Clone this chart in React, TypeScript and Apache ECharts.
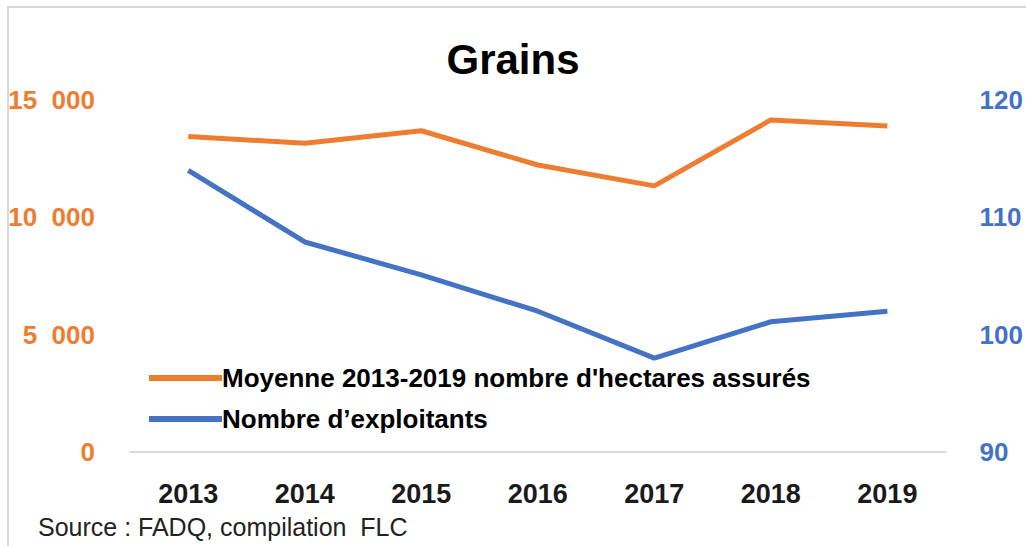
import React, { useEffect, useRef } from "react";
import * as echarts from "echarts";

const years = ["2013", "2014", "2015", "2016", "2017", "2018", "2019"];
const hectares = [13440, 13160, 13690, 12230, 11340, 14150, 13890];
const exploitants = [114.0, 107.9, 105.1, 102.0, 98.0, 101.1, 102.0];
const leftTicks = [0, 5000, 10000, 15000];
const rightTicks = [90, 100, 110, 120];

const seriesNames = [
  "Moyenne 2013-2019 nombre d'hectares assurés",
  "Nombre d\u2019exploitants",
];
const title = "Grains";
const source = "Source : FADQ, compilation  FLC";

const ORANGE = "#ED7D31";
const BLUE = "#4472C4";
const FONT = "'Liberation Sans Narrow', 'Arial Narrow', 'Liberation Sans', sans-serif";

function fmtThousands(v: number): string {
  if (v === 0) return "0";
  const s = String(v);
  return s.slice(0, s.length - 3) + "  " + s.slice(s.length - 3);
}

export default function App() {
  const ref = useRef<HTMLDivElement>(null);
  useEffect(() => {
    if (!ref.current) return;
    const chart = echarts.init(ref.current, null, { renderer: "svg" });
    chart.setOption({
      animation: false,
      backgroundColor: "#ffffff",
      title: {
        text: title,
        left: "center",
        top: 33,
        textStyle: { fontFamily: FONT, fontSize: 42, fontWeight: "bold", color: "#000" },
      },
      legend: {
        orient: "vertical",
        left: 144,
        top: 360,
        itemWidth: 73,
        itemHeight: 6,
        itemGap: 15,
        icon: "rect",
        textStyle: { fontFamily: FONT, fontSize: 26, fontWeight: "bold", color: "#000", padding: [0, 0, 0, -5] },
        data: seriesNames,
      },
      grid: { left: 130, right: 76, top: 100, bottom: 94, containLabel: false },
      xAxis: {
        type: "category",
        data: years,
        boundaryGap: true,
        axisLine: { lineStyle: { color: "#d9d9d9", width: 2 } },
        axisTick: { show: false },
        axisLabel: { fontFamily: FONT, fontSize: 27, fontWeight: "bold", color: "#1a1a1a", margin: 28 },
      },
      yAxis: [
        {
          type: "value",
          min: leftTicks[0],
          max: leftTicks[leftTicks.length - 1],
          interval: 5000,
          position: "left",
          splitLine: { show: false },
          axisLine: { show: false },
          axisTick: { show: false },
          axisLabel: {
            fontFamily: FONT,
            fontSize: 26,
            fontWeight: "bold",
            color: ORANGE,
            margin: 35,
            formatter: (v: number) => fmtThousands(v),
          },
        },
        {
          type: "value",
          min: rightTicks[0],
          max: rightTicks[rightTicks.length - 1],
          interval: 10,
          position: "right",
          splitLine: { show: false },
          axisLine: { show: false },
          axisTick: { show: false },
          axisLabel: { fontFamily: FONT, fontSize: 26, fontWeight: "bold", color: BLUE, margin: 34 },
        },
      ],
      series: [
        {
          name: seriesNames[0],
          type: "line",
          yAxisIndex: 0,
          data: hectares,
          symbol: "none",
          color: ORANGE,
          lineStyle: { color: ORANGE, width: 5 },
        },
        {
          name: seriesNames[1],
          type: "line",
          yAxisIndex: 1,
          data: exploitants,
          symbol: "none",
          color: BLUE,
          lineStyle: { color: BLUE, width: 5 },
        },
      ],
      graphic: [
        {
          type: "rect",
          shape: { x: 8, y: 7, width: 1040, height: 560 },
          style: { fill: "none", stroke: "#d9d9d9", lineWidth: 2 },
          silent: true,
        },
        {
          type: "text",
          left: 38,
          top: 514,
          style: { text: source, fontFamily: FONT, fontSize: 25, fill: "#222" },
        },
      ],
    });
    return () => chart.dispose();
  }, []);
  return (
    <div
      ref={ref}
      style={{ position: "fixed", left: 0, top: 0, width: 1026, height: 546, background: "#fff" }}
    />
  );
}
